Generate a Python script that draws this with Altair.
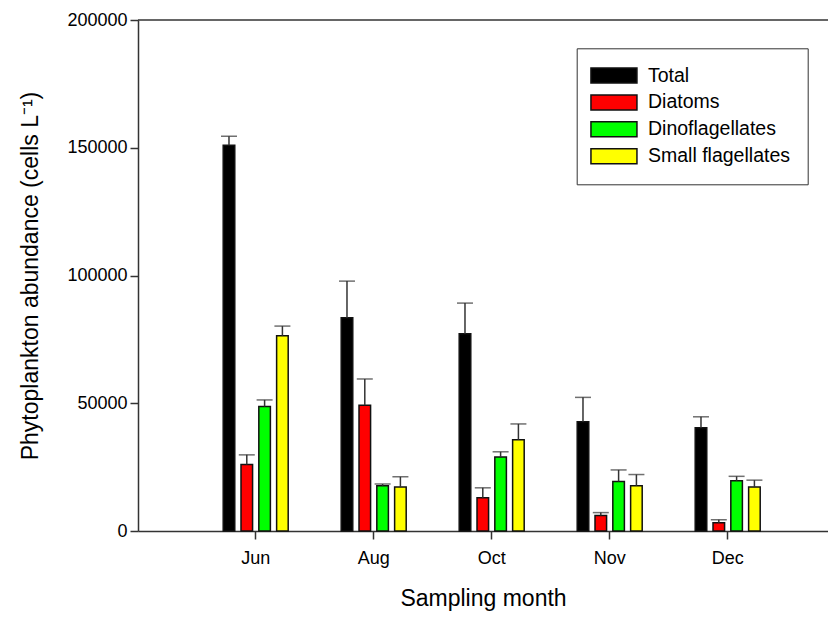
import altair as alt
import pandas as pd

months = ["Jun", "Aug", "Oct", "Nov", "Dec"]
series = ["Total", "Diatoms", "Dinoflagellates", "Small flagellates"]
colors = ["#000000", "#FF0000", "#00FF00", "#FFFF00"]

total = [151000, 83500, 77200, 42800, 40400]
total_err = [3500, 14300, 12000, 9500, 4300]
diatoms = [26000, 49200, 13000, 6100, 3200]
diatoms_err = [3800, 10300, 3900, 1100, 1200]
dino = [48700, 17700, 29000, 19400, 19700]
dino_err = [2600, 700, 2000, 4500, 1700]
small = [76400, 17200, 35700, 17700, 17200]
small_err = [3800, 4000, 6200, 4400, 2700]

vals = [total, diatoms, dino, small]
errs = [total_err, diatoms_err, dino_err, small_err]

rows = []
for s, v, e in zip(series, vals, errs):
    for m, vi, ei in zip(months, v, e):
        rows.append({"month": m, "group": s, "value": vi, "upper": vi + ei})
df = pd.DataFrame(rows)

W, H = 690, 511
FONT = "Liberation Sans"
AX = "#333333"

x_enc = alt.X("month:N", sort=months,
              scale=alt.Scale(paddingInner=0, paddingOuter=0.4237, align=0.587),
              axis=alt.Axis(title="Sampling month", labelAngle=0, tickSize=8,
                            labelPadding=10, titlePadding=20.5))
xo_enc = alt.XOffset("group:N", sort=series,
                     scale=alt.Scale(paddingInner=0.35, paddingOuter=0, range=[26.5, 91.5]))

base = alt.Chart(df)

bars = base.mark_bar(stroke="#111111", strokeWidth=1.5).encode(
    x=x_enc,
    xOffset=xo_enc,
    y=alt.Y("value:Q", scale=alt.Scale(domain=[0, 200000], nice=False, zero=True),
            axis=alt.Axis(title="Phytoplankton abundance (cells L\u207b\u00b9)",
                          values=[0, 50000, 100000, 150000, 200000], format="d",
                          tickSize=8, labelPadding=3, titlePadding=24)),
    color=alt.Color("group:N", sort=series,
                    scale=alt.Scale(domain=series, range=colors),
                    legend=alt.Legend(title=None, orient="none", legendX=438.7, legendY=28.3,
                                      symbolType="M-2.6,-1.5L6.6,-1.5L6.6,1.5L-2.6,1.5Z",
                                      symbolSize=100, symbolStrokeColor="#111111",
                                      symbolStrokeWidth=1.5, symbolOpacity=1,
                                      labelFont=FONT, labelFontSize=19.5, labelColor="#000000",
                                      labelOffset=34.3, rowPadding=4.9, padding=17.5,
                                      strokeColor="#333333", fillColor="white")),
)

whisk = base.mark_rule(color="#333333", strokeWidth=1.5).encode(
    x=alt.X("month:N", sort=months),
    xOffset=alt.XOffset("group:N", sort=series),
    y="value:Q",
    y2="upper:Q",
)

caps = base.mark_tick(color="#333333", thickness=1.5, size=16).encode(
    x=alt.X("month:N", sort=months),
    xOffset=alt.XOffset("group:N", sort=series),
    y="upper:Q",
)

top = alt.Chart(pd.DataFrame({"k": [0]})).mark_rule(color=AX, strokeWidth=1.5).encode(
    x=alt.value(0), x2=alt.value(W), y=alt.value(0)
)

chart = alt.layer(bars, whisk, caps, top).properties(
    width=W, height=H,
    autosize=alt.AutoSizeParams(type="none"),
    padding={"left": 130, "top": 12, "right": 0, "bottom": 80},
).configure_axis(
    labelFont=FONT, titleFont=FONT, labelFontSize=18, titleFontSize=23,
    labelColor="#000000", titleColor="#000000", titleFontWeight="normal",
    domainColor=AX, tickColor=AX, domainWidth=1.5, tickWidth=1.5, grid=False,
).configure_view(stroke=None)

chart.save("out.html", embed_options={"renderer": "svg", "actions": False})
